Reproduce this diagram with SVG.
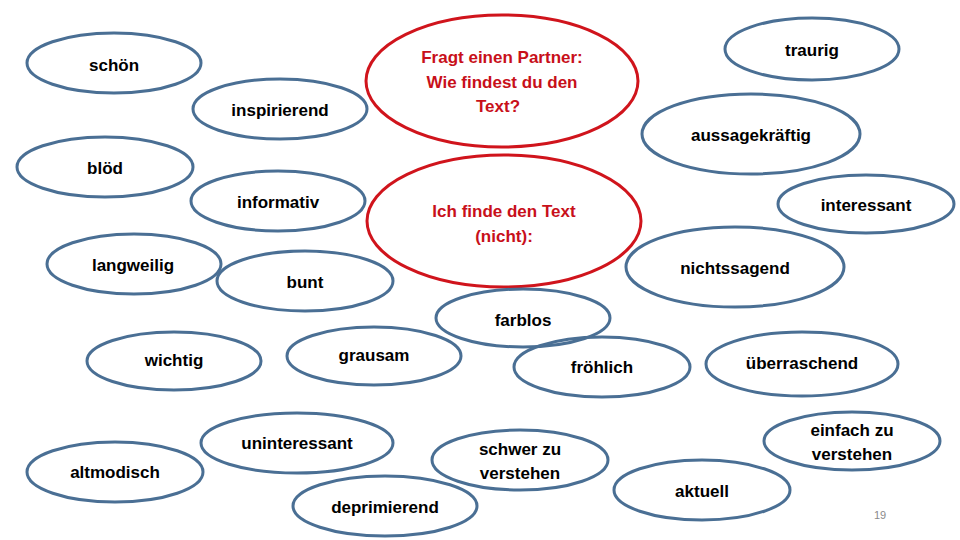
<svg xmlns="http://www.w3.org/2000/svg" width="960" height="540" viewBox="0 0 960 540">
<style>
.n ellipse{fill:none;stroke:#4a6f94;stroke-width:3}
.q ellipse{fill:none;stroke:#d0141c;stroke-width:3}
text{font-family:"Liberation Sans",Arial,sans-serif;font-weight:bold;font-size:17px;text-anchor:middle;dominant-baseline:central;fill:#000}
.q text{fill:#c8101a}
.pg{font-weight:normal;font-size:11px;fill:#8a8a8a}
</style>
<rect width="960" height="540" fill="#fff"/>
<g id="connectors"/>
<g id="q1" class="q"><ellipse cx="502" cy="81" rx="136" ry="66"/><text x="502" y="57">Fragt einen Partner:</text><text x="502" y="82">Wie findest du den</text><text x="498" y="106">Text?</text></g>
<g id="q2" class="q"><ellipse cx="504" cy="221" rx="137" ry="66"/><text x="504" y="211">Ich finde den Text</text><text x="504" y="236">(nicht):</text></g>
<g id="schoen" class="n"><ellipse cx="114" cy="63" rx="87" ry="30"/><text x="114" y="65">schön</text></g>
<g id="inspirierend" class="n"><ellipse cx="280" cy="109" rx="87" ry="30"/><text x="280" y="110">inspirierend</text></g>
<g id="traurig" class="n"><ellipse cx="812" cy="49" rx="87" ry="31"/><text x="812" y="50">traurig</text></g>
<g id="aussagekraeftig" class="n"><ellipse cx="751" cy="134" rx="109" ry="40"/><text x="751" y="135">aussagekräftig</text></g>
<g id="bloed" class="n"><ellipse cx="105" cy="167" rx="88" ry="30"/><text x="105" y="168">blöd</text></g>
<g id="informativ" class="n"><ellipse cx="278" cy="201" rx="87" ry="30"/><text x="278" y="202">informativ</text></g>
<g id="interessant" class="n"><ellipse cx="866" cy="204" rx="88" ry="29"/><text x="866" y="205">interessant</text></g>
<g id="langweilig" class="n"><ellipse cx="134" cy="264" rx="87" ry="30"/><text x="133" y="265">langweilig</text></g>
<g id="bunt" class="n"><ellipse cx="305" cy="281" rx="88" ry="30"/><text x="305" y="282">bunt</text></g>
<g id="nichtssagend" class="n"><ellipse cx="735" cy="267" rx="109" ry="40"/><text x="735" y="268">nichtssagend</text></g>
<g id="farblos" class="n"><ellipse cx="523" cy="318" rx="87" ry="29"/><text x="523" y="320">farblos</text></g>
<g id="wichtig" class="n"><ellipse cx="174" cy="361" rx="87" ry="29"/><text x="174" y="360">wichtig</text></g>
<g id="grausam" class="n"><ellipse cx="374" cy="356" rx="87" ry="29"/><text x="374" y="355">grausam</text></g>
<g id="froehlich" class="n"><ellipse cx="602" cy="367" rx="88" ry="30"/><text x="602" y="367">fröhlich</text></g>
<g id="ueberraschend" class="n"><ellipse cx="802" cy="364" rx="96" ry="32"/><text x="802" y="363">überraschend</text></g>
<g id="uninteressant" class="n"><ellipse cx="297" cy="443" rx="96" ry="30"/><text x="297" y="443">uninteressant</text></g>
<g id="altmodisch" class="n"><ellipse cx="115" cy="472" rx="88" ry="30"/><text x="115" y="472">altmodisch</text></g>
<g id="deprimierend" class="n"><ellipse cx="385" cy="506" rx="92" ry="30"/><text x="385" y="507">deprimierend</text></g>
<g id="schwer" class="n"><ellipse cx="520" cy="460" rx="88" ry="30"/><text x="520" y="449">schwer zu</text><text x="520" y="473">verstehen</text></g>
<g id="aktuell" class="n"><ellipse cx="702" cy="490" rx="88" ry="30"/><text x="702" y="491">aktuell</text></g>
<g id="einfach" class="n"><ellipse cx="852" cy="441" rx="88" ry="29"/><text x="852" y="430">einfach zu</text><text x="852" y="454">verstehen</text></g>
<text class="pg" x="880" y="515">19</text>
</svg>
